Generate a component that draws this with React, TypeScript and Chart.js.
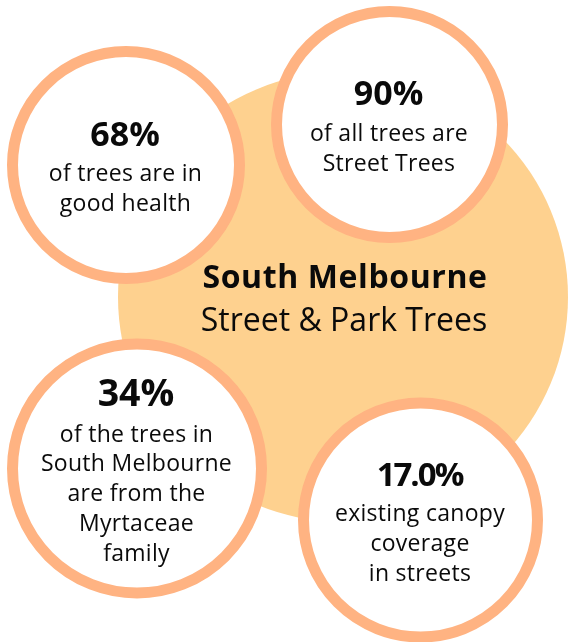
import React, { useEffect, useRef } from "react";
import { Chart, registerables } from "chart.js";

Chart.register(...registerables);

// Backdrop bubble (the big "South Melbourne" circle)
const hubX = [343];
const hubY = [297];
const hubR = [225];
const titleLines = ["South Melbourne", "Street & Park Trees"];

// Stat bubbles
const statX = [126, 389.5, 137, 420.5];
const statY = [165, 124.5, 468.5, 520];
const statR = [113.5, 113, 124.5, 117];
const headlines = ["68%", "90%", "34%", "17.0%"];
const descriptions = [
  ["of trees are in", "good health"],
  ["of all trees are", "Street Trees"],
  ["of the trees in", "South Melbourne", "are from the", "Myrtaceae", "family"],
  ["existing canopy", "coverage", "in streets"],
];
const headlineSize = [34, 34, 37.5, 33];
const headlineSpacing = [0, 0, 0, -2];

const FONT = "'Open Sans', 'Noto Sans', sans-serif";
const HUB_FILL = "#FED18F";
const RING = "#FFB382";
const TEXT = "#0A0A0A";

const textPlugin = {
  id: "infoText",
  afterDatasetsDraw(chart: any) {
    const ctx = chart.ctx;
    ctx.save();
    ctx.fillStyle = TEXT;
    ctx.textAlign = "center";
    ctx.textBaseline = "alphabetic";

    const hub = chart.getDatasetMeta(1).data[0];
    if (hub) {
      ctx.font = `bold 32px ${FONT}`;
      ctx.letterSpacing = "0.6px";
      ctx.fillText(titleLines[0], hub.x + 2, hub.y - 9);
      ctx.font = `32px ${FONT}`;
      ctx.letterSpacing = "0px";
      ctx.fillText(titleLines[1], hub.x + 1, hub.y + 34);
    }

    const meta = chart.getDatasetMeta(0);
    meta.data.forEach((el: any, i: number) => {
      const hs = headlineSize[i];
      const capH = hs * 0.74;
      const lines = descriptions[i];
      const lh = 29.8;
      const gap = 35.5;
      const blockH = capH + gap + (lines.length - 1) * lh;
      const base = el.y - blockH / 2 + capH + 1;
      ctx.font = `bold ${hs}px ${FONT}`;
      ctx.letterSpacing = `${headlineSpacing[i]}px`;
      ctx.fillText(headlines[i], el.x - 1, base);
      ctx.font = `23px ${FONT}`;
      ctx.letterSpacing = "0.3px";
      lines.forEach((ln: string, j: number) => {
        ctx.fillText(ln, el.x - 0.5, base + gap + j * lh);
      });
    });
    ctx.restore();
  },
};

export default function App() {
  const ref = useRef<HTMLCanvasElement>(null);
  useEffect(() => {
    document.body.style.margin = "0";
    const canvas = ref.current!;
    const chart = new Chart(canvas, {
      type: "bubble",
      data: {
        datasets: [
          {
            label: "stats",
            data: statX.map((x, i) => ({ x, y: statY[i], r: statR[i] })),
            backgroundColor: "#FFFFFF",
            borderColor: RING,
            borderWidth: 11,
            clip: false as any,
            order: 1,
          },
          {
            label: "hub",
            data: hubX.map((x, i) => ({ x, y: hubY[i], r: hubR[i] })),
            backgroundColor: HUB_FILL,
            borderWidth: 0,
            clip: false as any,
            order: 2,
          },
        ],
      },
      options: {
        responsive: false,
        animation: false,
        layout: { padding: 0, autoPadding: false } as any,
        events: [],
        plugins: {
          legend: { display: false },
          tooltip: { enabled: false },
        },
        scales: {
          x: { type: "linear", min: 0, max: 571, display: false },
          y: { type: "linear", min: 0, max: 642, reverse: true, display: false },
        },
      },
      plugins: [textPlugin],
    });
    return () => chart.destroy();
  }, []);
  return (
    <div style={{ width: 571, height: 642, background: "#FFFFFF" }}>
      <canvas ref={ref} width={571} height={642} style={{ display: "block" }} />
    </div>
  );
}
